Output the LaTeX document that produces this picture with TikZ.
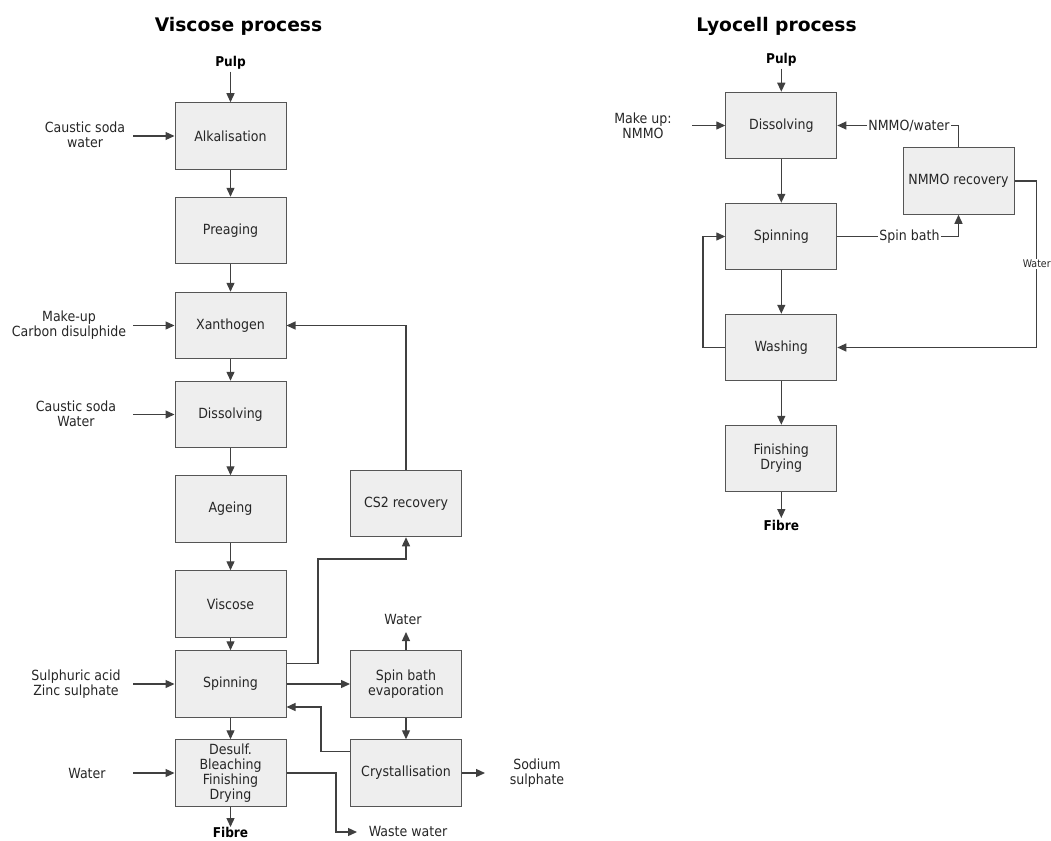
\documentclass[tikz,border=0pt]{standalone}
\usepackage{fontspec}
\setmainfont{DejaVu Sans Condensed}
\newfontfamily\titlefont{DejaVu Sans}
\usetikzlibrary{arrows.meta}
\definecolor{lc}{HTML}{404040}
\definecolor{bc}{HTML}{555555}
\definecolor{bf}{HTML}{EEEEEE}
\begin{document}
\begin{tikzpicture}[x=1pt,y=-1pt,
  proc/.style={draw=bc,fill=bf,line width=1pt,minimum width=111pt,minimum height=66.5pt,
    align=center,font=\fontsize{14}{15}\selectfont,text=black!85,inner sep=0pt},
  lab/.style={align=center,font=\fontsize{14}{15}\selectfont,text=black!85,inner sep=1pt},
  blab/.style={font=\fontsize{13.5}{15}\selectfont\bfseries,inner sep=2pt},
  slab/.style={font=\fontsize{10.5}{12}\selectfont,text=black!85,inner sep=1pt,fill=white},
  ttl/.style={font=\titlefont\fontsize{18.7}{21}\selectfont\bfseries},
  arr/.style={draw=lc,line width=1.3pt,-{Triangle[length=9pt,width=8pt]}},
  ln/.style={draw=lc,line width=1.3pt}]
\useasboundingbox (0,0) rectangle (1051,840);

% ---------- Viscose ----------
\node[ttl] (tv) at (238.5,26) {Viscose process};
\node[blab] (pulpv) at (230.5,63) {Pulp};
\node[proc] (alk) at (230.5,136) {Alkalisation};
\node[proc] (pre) at (230.5,230.5) {Preaging};
\node[proc] (xan) at (230.5,325.5) {Xanthogen};
\node[proc] (dis) at (230.5,414.5) {Dissolving};
\node[proc] (age) at (230.5,509) {Ageing};
\node[proc] (vis) at (230.5,604) {Viscose};
\node[proc] (spin) at (230.5,684) {Spinning};
\node[proc] (des) at (230.5,773) {Desulf.\\Bleaching\\Finishing\\Drying};
\node[proc] (cs2) at (406,503.5) {CS2 recovery};
\node[proc] (sbe) at (406,684) {Spin bath\\evaporation};
\node[proc] (cry) at (406,773) {Crystallisation};
\node[blab,anchor=north,inner sep=0pt] (fibv) at (230.5,827) {Fibre};

\node[lab] (l1) at (85,135) {Caustic soda\\water};
\node[lab] (l2) at (69,325) {Make-up\\Carbon disulphide};
\node[lab] (l3) at (76,414) {Caustic soda\\Water};
\node[lab] (l4) at (76,684) {Sulphuric acid\\Zinc sulphate};
\node[lab] (l5) at (87,773) {Water};
\node[lab] (wv) at (403,619) {Water};
\node[lab] (sod) at (537,773) {Sodium\\sulphate};
\node[lab] (ww) at (408,831) {Waste water};

\coordinate (i1) at (133,136);
\coordinate (i2) at (133,325.5);
\coordinate (i3) at (133,414.5);
\coordinate (i4) at (133,684);
\coordinate (i5) at (133,773);
\coordinate (wtip) at (406,632);
\coordinate (stip) at (485,773);
\coordinate (c1) at (318,559);
\coordinate (c2) at (321,707);
\coordinate (c3) at (336,832);
\coordinate (wwtip) at (357,832);

\draw[arr] (pulpv.south) -- (alk.north);
\draw[arr] (alk) -- (pre);
\draw[arr] (pre) -- (xan);
\draw[arr] (xan) -- (dis);
\draw[arr] (dis) -- (age);
\draw[arr] (age) -- (vis);
\draw[arr] (vis) -- (spin);
\draw[arr] (spin) -- (des);
\draw[arr] (des.south) -- (fibv.north);
\draw[arr] (i1) -- (alk.west);
\draw[arr] (i2) -- (xan.west);
\draw[arr] (i3) -- (dis.west);
\draw[arr] (i4) -- (spin.west);
\draw[arr] (i5) -- (des.west);
\draw[arr] (cs2.north) |- (xan.east);
\draw[arr] ([yshift=-13pt]spin.north east) -| (c1) -| (cs2.south);
\draw[arr] (spin) -- (sbe);
\draw[arr] (sbe.north) -- (wtip);
\draw[arr] (sbe) -- (cry);
\draw[arr] ([yshift=-12pt]cry.north west) -| (c2) -- (c2 -| spin.east);
\draw[arr] (cry.east) -- (stip);
\draw[arr] (des.east) -| (c3) -- (wwtip);

% ---------- Lyocell ----------
\node[ttl] (tl) at (776.5,26) {Lyocell process};
\node[blab] (pulpl) at (781.3,60) {Pulp};
\node[proc] (ldis) at (781.3,125.5) {Dissolving};
\node[proc] (lspin) at (781.3,236.5) {Spinning};
\node[proc] (lwash) at (781.3,347.5) {Washing};
\node[proc] (lfin) at (781.3,458.5) {Finishing\\Drying};
\node[proc] (nmmo) at (958.5,181) {NMMO recovery};
\node[blab,anchor=north] (fibl) at (781.3,518) {Fibre};

\node[lab] (l6) at (643,125.5) {Make up:\\NMMO};
\node[lab,fill=white] (nw) at (909,125.5) {NMMO/water};
\node[lab,fill=white] (sb) at (909.5,236.5) {Spin bath};
\node[slab] (wl) at (1036.7,264) {Water};

\coordinate (i6) at (692,125.5);
\coordinate (c4) at (703,347.5);

\draw[arr] (pulpl.south) -- (ldis.north);
\draw[arr] (i6) -- (ldis.west);
\draw[arr] (ldis) -- (lspin);
\draw[arr] (lspin) -- (lwash);
\draw[arr] (lwash) -- (lfin);
\draw[arr] (lfin.south) -- (fibl.north);
\draw[ln] (nmmo.north) |- (nw.east);
\draw[arr] (nw.west) -- (ldis.east);
\draw[ln] (lspin.east) -- (sb.west);
\draw[arr] (sb.east) -| (nmmo.south);
\draw[ln] (nmmo.east) -| (wl.north);
\draw[arr] (wl.south) |- (lwash.east);
\draw[arr] (lwash.west) -- (c4) |- (lspin.west);
\end{tikzpicture}
\end{document}
